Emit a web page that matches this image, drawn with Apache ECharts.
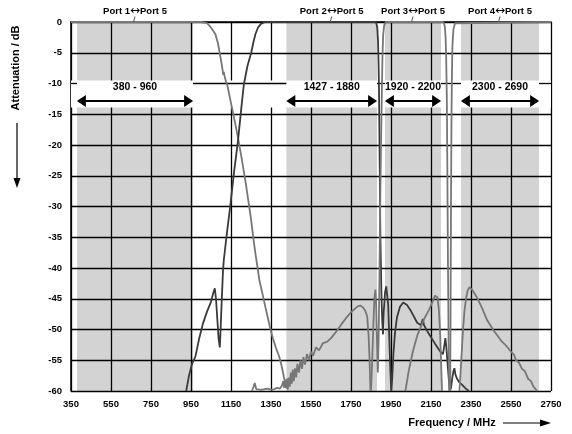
<!DOCTYPE html>
<html><head><meta charset="utf-8">
<script src="https://cdn.jsdelivr.net/npm/echarts@6/dist/echarts.min.js"></script>
<style>html,body{margin:0;padding:0;background:#fff}#c{width:572px;height:434px}</style>
</head><body><div id="c"></div>
<script>
// ---------- data ----------
const xTicks = [350, 550, 750, 950, 1150, 1350, 1550, 1750, 1950, 2150, 2350, 2550, 2750];
const yTicks = [0, -5, -10, -15, -20, -25, -30, -35, -40, -45, -50, -55, -60];
const bands = [[380, 960], [1427, 1880], [1920, 2200], [2300, 2690]];
const bandLabels = ['380 - 960', '1427 - 1880', '1920 - 2200', '2300 - 2690'];
const portLabels = ['Port 1\u2194Port 5', 'Port 2\u2194Port 5', 'Port 3\u2194Port 5', 'Port 4\u2194Port 5'];

// Port 1 <-> Port 5 (low pass, medium grey)
const port1 = [[350,0],[1000,0],[1030,-0.2],[1045,-0.7],[1060,-1.4],[1072,-2],[1085,-3.5],[1095,-5.3],[1101,-6.4],[1107,-7.6],[1111,-8.6],[1114,-8.1],[1118,-8.8],[1124,-9.6],[1131,-10.2],[1150,-13.2],[1168,-16],[1186,-19],[1205,-22.5],[1225,-26.5],[1250,-32],[1265,-36],[1277,-38.7],[1292,-42],[1306,-44],[1325,-46.8],[1344,-49.5],[1360,-51.5],[1375,-53],[1390,-54.3],[1400,-55.5],[1410,-57],[1418,-58.3],[1424,-59.5],[1429,-58],[1434,-59.8],[1439,-57.8],[1444,-59.3],[1449,-57],[1454,-58.8],[1459,-56.5],[1464,-58.4],[1470,-56.3],[1476,-57.8],[1482,-55.6],[1490,-57],[1497,-55],[1505,-56.4],[1512,-54.5],[1520,-55.7],[1530,-54],[1540,-55],[1550,-53.6],[1560,-54.3],[1575,-52.9],[1590,-53.4],[1610,-52.2],[1630,-52],[1650,-51.4],[1670,-50.6],[1690,-49.7],[1710,-48.8],[1731,-47.9],[1750,-47.2],[1770,-46.6],[1785,-46.2],[1797,-46.1],[1810,-46.4],[1822,-47],[1831,-47.9],[1838,-51],[1843,-55],[1847,-60]];

// stop-band floor trace (medium grey)
const floorTrace = [[1255,-60],[1265,-59.8],[1269,-58.7],[1272,-58.9],[1276,-59.7],[1300,-59.8],[1330,-59.6],[1360,-59.8],[1380,-59.5],[1395,-59.6],[1405,-59.1],[1411,-58.4],[1416,-59.5],[1422,-58.2],[1428,-59.6]];

// Port 2 <-> Port 5 (dark grey)
const port2 = [[926,-60],[940,-57.5],[955,-55.6],[972,-54.4],[990,-51.6],[1010,-49],[1030,-47.1],[1050,-45.5],[1062,-44],[1069,-43.3],[1075,-45],[1082,-48.5],[1088,-51.5],[1094,-52.9],[1098,-50],[1104,-45],[1110,-40.5],[1114,-38.7],[1130,-34.2],[1146,-30],[1165,-24.5],[1186,-19],[1200,-14.5],[1214,-10.2],[1232,-7.2],[1251,-5],[1262,-3.3],[1272,-2],[1285,-0.9],[1300,-0.3],[1320,0],[1875,0],[1881,-0.8],[1885,-3],[1888,-7],[1890,-11],[1893,-22],[1897,-35],[1902,-44],[1906,-48.5],[1910,-50.8],[1914,-47],[1920,-44],[1926,-43],[1931,-42.7],[1936,-46],[1941,-51],[1946,-56],[1951,-60],[1956,-58],[1962,-54],[1970,-50.5],[1980,-48],[1995,-46.3],[2011,-45.6],[2030,-46],[2050,-47],[2081,-48.9],[2100,-49.3],[2109,-48.3],[2115,-49.3],[2130,-50.2],[2147,-51.1],[2170,-52.3],[2197,-53.6],[2210,-54],[2217,-52.5],[2222,-51.4],[2227,-53],[2234,-56],[2240,-58.5],[2244,-60],[2250,-59.5],[2256,-58],[2262,-56.8],[2267,-56.3],[2272,-57.3],[2280,-58],[2292,-58.6],[2306,-59],[2320,-59.5],[2339,-60]];

// Port 3 <-> Port 5 (medium grey)
const port3 = [[1850,-60],[1856,-55],[1862,-49],[1867,-45],[1872,-43.5],[1876,-46],[1880,-52],[1884,-57],[1888,-52],[1892,-42],[1896,-30],[1900,-20],[1904,-12],[1907,-6],[1911,-2],[1916,-0.5],[1925,0],[2212,0],[2219,-0.7],[2223,-2.5],[2226,-6],[2229,-12],[2232,-25],[2235,-40],[2238,-52],[2241,-60]];
const port3Upper = [[2292,-60],[2297,-57.5],[2303,-54],[2310,-50],[2318,-46.8],[2326,-44.8],[2334,-43.6],[2342,-43.1],[2355,-43.5],[2380,-44.8],[2405,-46.5],[2431,-48.5],[2460,-50],[2500,-51.8],[2530,-52.8],[2547,-53.5],[2565,-54.1],[2575,-55],[2590,-55.4],[2605,-56.4],[2620,-56.8],[2635,-58],[2650,-58.4],[2662,-59.3],[2672,-59.5],[2681,-60]];

// Port 4 <-> Port 5 (medium grey)
const port4Lower = [[2022,-60],[2040,-56.5],[2060,-53.5],[2081,-51],[2100,-49.5],[2120,-48],[2140,-46.8],[2160,-45.3],[2170,-44.5],[2177,-44.2],[2183,-44.8],[2190,-47],[2196,-51],[2201,-56],[2205,-60]];
const port4 = [[2246,-60],[2248,-45],[2250,-30],[2252,-18],[2254,-10],[2257,-4],[2262,-1.2],[2270,-0.2],[2280,0],[2750,0]];

// ---------- styling / layout ----------
const FONT = "'Liberation Sans', Arial, sans-serif";
const DARK = '#3a3a3a', MID = '#777777', BAND = '#d3d3d3';
const STRIP = [-9.5, -13.9];     // white annotation strip (dB)
const LABEL_Y = -10.6, ARROW_Y = -12.85, ARROW_INSET = 22;

function line(name, data, color) {
  return { type: 'line', name, data, showSymbol: false, symbol: 'none', z: 5, animation: false,
    lineStyle: { color, width: 1.8 }, itemStyle: { color }, clip: true };
}

const gaps = [];
let prev = xTicks[0];
bands.forEach(b => { gaps.push([prev, b[0]]); prev = b[1]; });
gaps.push([prev, xTicks[xTicks.length - 1]]);

const option = {
  backgroundColor: '#fff',
  animation: false,
  grid: { left: 71, top: 22, width: 480, height: 369 },
  xAxis: { type: 'value', min: xTicks[0], max: xTicks[xTicks.length - 1], interval: 200, z: 2,
    axisLine: { show: true, lineStyle: { color: '#000', width: 1.5 } },
    axisTick: { show: false },
    splitLine: { show: true, lineStyle: { color: '#000', width: 1.3 } },
    axisLabel: { color: '#000', fontWeight: 'bold', fontSize: 9.5, fontFamily: FONT, margin: 8,
      formatter: v => xTicks.includes(v) ? String(v) : '' } },
  yAxis: { type: 'value', min: -60, max: 0, interval: 5, z: 2,
    axisLine: { show: true, lineStyle: { color: '#000', width: 1.5 } },
    axisTick: { show: false },
    splitLine: { show: true, lineStyle: { color: '#000', width: 1.3 } },
    axisLabel: { color: '#000', fontWeight: 'bold', fontSize: 9.5, fontFamily: FONT, margin: 9 } },
  series: [
    { type: 'line', data: [], silent: true,
      markArea: { z: 1, silent: true, itemStyle: { color: BAND },
        data: bands.map(b => [{ xAxis: b[0], yAxis: 0 }, { xAxis: b[1], yAxis: -60 }]) } },
    { type: 'line', data: [], silent: true,
      markArea: { z: 3, silent: true, itemStyle: { color: '#fff' },
        data: [[{ xAxis: xTicks[0], yAxis: STRIP[0] }, { xAxis: xTicks[xTicks.length - 1], yAxis: STRIP[1] }]] },
      markLine: { z: 4, silent: true, symbol: 'none', label: { show: false },
        lineStyle: { color: '#000', width: 1.3, type: 'solid' },
        data: gaps.map(g => [{ coord: [g[0], -10] }, { coord: [g[1], -10] }]) } },
    line('Port 1\u2194Port 5', port1, MID),
    line('floor', floorTrace, MID),
    line('Port 2\u2194Port 5', port2, DARK),
    line('Port 3\u2194Port 5', port3, MID),
    line('Port 3 upper', port3Upper, MID),
    line('Port 4 lower', port4Lower, MID),
    line('Port 4\u2194Port 5', port4, MID),
    { type: 'line', data: [], silent: true,
      markLine: { z: 6, silent: true, symbol: ['triangle', 'triangle'], symbolSize: [12, 9],
        label: { show: false }, lineStyle: { color: '#000', width: 2, type: 'solid' },
        data: bands.map(b => [{ coord: [b[0] + ARROW_INSET, ARROW_Y] }, { coord: [b[1] - ARROW_INSET, ARROW_Y] }]) },
      markPoint: { z: 6, silent: true, symbol: 'circle', symbolSize: 0,
        label: { show: true, position: 'inside', color: '#000', fontWeight: 'bold', fontSize: 10.5, fontFamily: FONT,
          formatter: p => p.name },
        data: bands.map((b, i) => ({ name: bandLabels[i], coord: [(b[0] + b[1]) / 2, LABEL_Y] })) } }
  ]
};

const chart = echarts.init(document.getElementById('c'), null, { renderer: 'canvas' });
chart.setOption(option);

const px = (x, y) => chart.convertToPixel({ gridIndex: 0 }, [x, y]);
const g = [];
bands.forEach((b, i) => {
  const p = px((b[0] + b[1]) / 2, 0);
  const parts = portLabels[i].split('\u2194');
  g.push({ type: 'text', x: p[0], y: p[1] - 11, z: 10,
    style: { text: '{a|' + parts[0] + '}{b|\u2194}{a|' + parts[1] + '}', align: 'center', verticalAlign: 'middle',
      rich: { a: { fontFamily: FONT, fontWeight: 'bold', fontSize: 9.5, color: '#000' },
              b: { fontFamily: "'DejaVu Sans', sans-serif", fontWeight: 'normal', fontSize: 12, color: '#333' } } } });
  g.push({ type: 'line', z: 10, shape: { x1: p[0], y1: p[1] - 5.5, x2: p[0] - 1.5, y2: p[1] },
    style: { stroke: '#555', lineWidth: 1 } });
});
// axis titles with arrows
g.push({ type: 'text', x: 16, y: 68, rotation: Math.PI / 2, z: 10,
  style: { text: 'Attenuation / dB', align: 'center', verticalAlign: 'middle', fill: '#000', font: 'bold 11px ' + FONT } });
g.push({ type: 'line', z: 10, shape: { x1: 17, y1: 123, x2: 17, y2: 180 }, style: { stroke: '#000', lineWidth: 1.2 } });
g.push({ type: 'polygon', z: 10, shape: { points: [[13.5, 178], [20.5, 178], [17, 188]] }, style: { fill: '#000' } });
g.push({ type: 'text', x: 452, y: 423, z: 10,
  style: { text: 'Frequency / MHz', align: 'center', verticalAlign: 'middle', fill: '#000', font: 'bold 11px ' + FONT } });
g.push({ type: 'line', z: 10, shape: { x1: 503, y1: 423, x2: 542, y2: 423 }, style: { stroke: '#000', lineWidth: 1.2 } });
g.push({ type: 'polygon', z: 10, shape: { points: [[540, 419.5], [540, 426.5], [551, 423]] }, style: { fill: '#000' } });
chart.setOption({ graphic: g });
</script></body></html>
